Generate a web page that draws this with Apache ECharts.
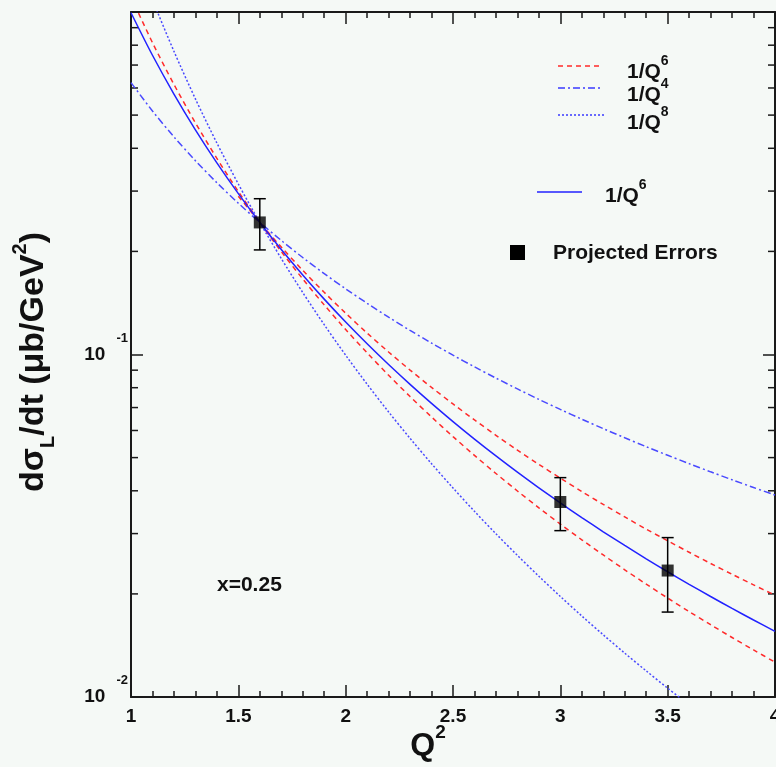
<!DOCTYPE html>
<html>
<head>
<meta charset="utf-8">
<script src="https://cdn.jsdelivr.net/npm/echarts@6/dist/echarts.min.js"></script>
<style>
html,body{margin:0;padding:0;background:#f5f9f6;overflow:hidden;}
#chart{width:776px;height:767px;}
</style>
</head>
<body>
<div id="chart"></div>
<script>
// ---- data ----
var q2 = [1.0,1.1,1.2,1.3,1.4,1.5,1.6,1.7,1.8,1.9,2.0,2.1,2.2,2.3,2.4,2.5,2.6,2.7,2.8,2.9,3.0,3.1,3.2,3.3,3.4,3.5,3.6,3.7,3.8,3.9,4.0];
// blue solid 1/Q^6
var fitQ6 = [0.995,0.7476,0.5760,0.4530,0.3627,0.2949,0.2430,0.2026,0.1707,0.1451,0.1244,0.1075,0.09348,0.08181,0.07200,0.06370,0.05663,0.05057,0.04534,0.04081,0.03686,0.03341,0.03037,0.02770,0.02532,0.02321,0.02133,0.01965,0.01814,0.01678,0.01555];
// blue dash-dot 1/Q^4
var fitQ4 = [0.6221,0.5141,0.4320,0.3681,0.3174,0.2765,0.2430,0.2153,0.1920,0.1723,0.1555,0.1411,0.1285,0.1176,0.1080,0.09954,0.09203,0.08534,0.07935,0.07397,0.06912,0.06473,0.06075,0.05713,0.05381,0.05078,0.04800,0.04544,0.04308,0.04090,0.03888];
// blue dotted 1/Q^8
var fitQ8 = [1.5925,1.0877,0.7680,0.5576,0.4145,0.3146,0.2430,0.1907,0.1517,0.1222,0.09953,0.08189,0.06798,0.05691,0.04800,0.04077,0.03485,0.02997,0.02591,0.02252,0.01966,0.01724,0.01519,0.01343,0.01192,0.01061,0.00948,null,null,null,null];
// red dashed bands
var bandLow = [1.107,0.8139,0.6147,0.4748,0.3738,0.2992,0.2430,0.1998,0.1662,0.1396,0.1183,0.1011,0.08699,0.07536,0.06570,0.05759,0.05075,0.04493,0.03995,0.03567,0.03198,0.02877,0.02598,0.02352,0.02136,0.01945,0.01776,0.01626,0.01492,0.01372,0.01264];
var bandHigh = [null,null,null,null,null,0.2899,0.2430,0.2059,0.1761,0.1519,0.1320,0.1155,0.1017,0.09006,0.08017,0.07171,0.06442,0.05808,0.05259,0.04777,0.04355,0.03980,0.03650,0.03356,0.03091,0.02858,0.02646,0.02454,0.02282,0.02125,0.01983];
// projected points
var ptQ2 = [1.6, 3.0, 3.5];
var ptVal = [0.243, 0.0371, 0.0234];
var ptLow = [0.202, 0.0306, 0.0177];
var ptHigh = [0.285, 0.0437, 0.0292];
// axes
var xMin = 1, xMax = 4, xStep = 0.5;
var yMin = 0.01, yMax = 1;
var yMinorTicks = [0.02,0.03,0.04,0.05,0.06,0.07,0.08,0.09,0.2,0.3,0.4,0.5,0.6,0.7,0.8,0.9];

var FONT = '"Liberation Sans", Arial, sans-serif';
function pairs(arr){ return q2.map(function(x,i){ return [x, arr[i]]; }); }

var chart = echarts.init(document.getElementById('chart'), null, {renderer:'canvas', width:776, height:767});

var axisLineStyle = {color:'#1a1a1a', width:2};
var tickStyle = {color:'#1a1a1a', width:1.5};

function legendText(x, y, base, exp){
  return {type:'text', x:x, y:y, z:10, style:{text:'{m|' + base + '}{s|' + exp + '}', align:'left', verticalAlign:'middle', rich:{
    m:{fontFamily:FONT, fontWeight:'bold', fontSize:21, lineHeight:36, verticalAlign:'middle', fill:'#111'},
    s:{fontFamily:FONT, fontWeight:'bold', fontSize:14, lineHeight:14, verticalAlign:'top', fill:'#111'}}}};
}

var option = {
  backgroundColor: '#f5f9f6',
  animation: false,
  grid: {left:131, right:1, top:12, bottom:70, containLabel:false, outerBoundsMode:'none'},
  xAxis: [{
    type:'value', min:xMin, max:xMax, interval:xStep, position:'bottom',
    axisLine:{show:true, onZero:false, lineStyle:axisLineStyle},
    axisTick:{show:true, inside:true, length:12, lineStyle:tickStyle},
    minorTick:{show:true, splitNumber:5, length:6, lineStyle:tickStyle},
    splitLine:{show:false},
    axisLabel:{show:true, margin:10, fontFamily:FONT, fontWeight:'bold', fontSize:19, color:'#111',
      formatter:function(v){ return String(v); }}
  },{
    type:'value', min:xMin, max:xMax, interval:xStep, position:'top',
    axisLine:{show:true, onZero:false, lineStyle:axisLineStyle},
    axisTick:{show:true, inside:true, length:12, lineStyle:tickStyle},
    minorTick:{show:true, splitNumber:5, length:6, lineStyle:tickStyle},
    splitLine:{show:false}, axisLabel:{show:false}
  }],
  yAxis: [{
    type:'log', logBase:10, min:yMin, max:yMax, position:'left',
    axisLine:{show:true, onZero:false, lineStyle:axisLineStyle},
    axisTick:{show:true, inside:true, length:12, lineStyle:tickStyle},
    splitLine:{show:false},
    axisLabel:{show:true, margin:3, color:'#111',
      formatter:function(v){
        if (v >= 0.99) return '';
        var e = Math.round(Math.log(v)/Math.LN10);
        return '{m|10}{s|' + e + '}';
      },
      rich:{
        m:{fontFamily:FONT, fontWeight:'bold', fontSize:19, lineHeight:46, verticalAlign:'middle', color:'#111'},
        s:{fontFamily:FONT, fontWeight:'bold', fontSize:13, lineHeight:12, verticalAlign:'top', color:'#111', padding:[0,0,0,11]}
      }
    }
  },{
    type:'log', logBase:10, min:yMin, max:yMax, position:'right',
    axisLine:{show:true, onZero:false, lineStyle:axisLineStyle},
    axisTick:{show:true, inside:true, length:12, lineStyle:tickStyle},
    splitLine:{show:false}, axisLabel:{show:false}
  }],
  graphic: [
    // y title
    {type:'text', x:34, y:362, rotation:Math.PI/2, z:10,
      style:{text:'{a|dσ}{b|L}{a|/dt (μb/GeV}{c|2}{a|)}', align:'center', verticalAlign:'middle',
        rich:{
          a:{fontFamily:FONT, fontWeight:'bold', fontSize:34, lineHeight:48, verticalAlign:'middle', fill:'#111'},
          b:{fontFamily:FONT, fontWeight:'bold', fontSize:20, lineHeight:19, verticalAlign:'bottom', fill:'#111'},
          c:{fontFamily:FONT, fontWeight:'bold', fontSize:20, lineHeight:17, verticalAlign:'top', fill:'#111'}
        }}},
    // x title
    {type:'text', x:428, y:746, z:10,
      style:{text:'{a|Q}{c|2}', align:'center', verticalAlign:'middle',
        rich:{
          a:{fontFamily:FONT, fontWeight:'bold', fontSize:32, lineHeight:46, verticalAlign:'middle', fill:'#111'},
          c:{fontFamily:FONT, fontWeight:'bold', fontSize:19, lineHeight:17, verticalAlign:'top', fill:'#111'}
        }}},
    // annotation
    {type:'text', x:217, y:585, z:10,
      style:{text:'x=0.25', align:'left', verticalAlign:'middle', fontFamily:FONT, fontWeight:'bold', fontSize:21, fill:'#111'}},
    // legend
    {type:'line', shape:{x1:558,y1:66,x2:602,y2:66}, z:10, style:{stroke:'#ff2a2a', lineWidth:1.5, lineDash:[5,4]}},
    {type:'line', shape:{x1:558,y1:88,x2:600,y2:88}, z:10, style:{stroke:'#3a3aff', lineWidth:1.5, lineDash:[7,3,2,3]}},
    {type:'line', shape:{x1:558,y1:115,x2:604,y2:115}, z:10, style:{stroke:'#3a3aff', lineWidth:1.5, lineDash:[2,2]}},
    {type:'line', shape:{x1:537,y1:192,x2:582,y2:192}, z:10, style:{stroke:'#2222ff', lineWidth:1.5}},
    {type:'rect', shape:{x:510,y:245,width:15,height:15}, z:10, style:{fill:'#000'}},
    legendText(627, 72, '1/Q', '6'),
    legendText(627, 95, '1/Q', '4'),
    legendText(627, 123, '1/Q', '8'),
    legendText(605, 196, '1/Q', '6'),
    {type:'text', x:553, y:253, z:10, style:{text:'Projected Errors', align:'left', verticalAlign:'middle', fontFamily:FONT, fontWeight:'bold', fontSize:21, fill:'#111'}}
  ],
  series: [
    {type:'custom', name:'minor y ticks', coordinateSystem:'cartesian2d', xAxisIndex:0, yAxisIndex:0, silent:true, clip:false,
      data: yMinorTicks.map(function(v){ return [xMin, v]; }),
      encode:{x:0, y:1},
      renderItem:function(params, api){
        var l = api.coord([xMin, api.value(1)]);
        var r = api.coord([xMax, api.value(1)]);
        return {type:'group', children:[
          {type:'line', shape:{x1:l[0], y1:l[1], x2:l[0]+7, y2:l[1]}, style:{stroke:'#1a1a1a', lineWidth:1.5}},
          {type:'line', shape:{x1:r[0], y1:r[1], x2:r[0]-7, y2:r[1]}, style:{stroke:'#1a1a1a', lineWidth:1.5}}
        ]};
      }},
    {type:'line', name:'1/Q^8', data:pairs(fitQ8), showSymbol:false, smooth:0.3, z:2,
      lineStyle:{color:'#4a4aff', width:1.5, type:[2,2]}},
    {type:'line', name:'1/Q^4', data:pairs(fitQ4), showSymbol:false, smooth:0.3, z:2,
      lineStyle:{color:'#4a4aff', width:1.5, type:[7,3,2,3]}},
    {type:'line', name:'1/Q^6 low', data:pairs(bandLow), showSymbol:false, smooth:0.3, z:3,
      lineStyle:{color:'#ff2a2a', width:1.5, type:[5,4]}},
    {type:'line', name:'1/Q^6 high', data:pairs(bandHigh), showSymbol:false, smooth:0.3, z:3,
      lineStyle:{color:'#ff2a2a', width:1.5, type:[5,4]}},
    {type:'line', name:'1/Q^6', data:pairs(fitQ6), showSymbol:false, smooth:0.3, z:4,
      lineStyle:{color:'#2222ff', width:1.5, type:'solid'}},
    {type:'custom', name:'errors', coordinateSystem:'cartesian2d', z:5,
      data: ptQ2.map(function(x,i){ return [x, ptLow[i], ptHigh[i]]; }),
      encode:{x:0, y:[1,2]},
      renderItem:function(params, api){
        var lo = api.coord([api.value(0), api.value(1)]);
        var hi = api.coord([api.value(0), api.value(2)]);
        var w = 6;
        return {type:'group', children:[
          {type:'line', shape:{x1:lo[0], y1:lo[1], x2:hi[0], y2:hi[1]}, style:{stroke:'#000', lineWidth:1.5}},
          {type:'line', shape:{x1:lo[0]-w, y1:lo[1], x2:lo[0]+w, y2:lo[1]}, style:{stroke:'#000', lineWidth:1.5}},
          {type:'line', shape:{x1:hi[0]-w, y1:hi[1], x2:hi[0]+w, y2:hi[1]}, style:{stroke:'#000', lineWidth:1.5}}
        ]};
      }},
    {type:'scatter', name:'Projected Errors', data: ptQ2.map(function(x,i){ return [x, ptVal[i]]; }),
      symbol:'rect', symbolSize:12, z:6, itemStyle:{color:'#000'}}
  ]
};
chart.setOption(option);
</script>
</body>
</html>
